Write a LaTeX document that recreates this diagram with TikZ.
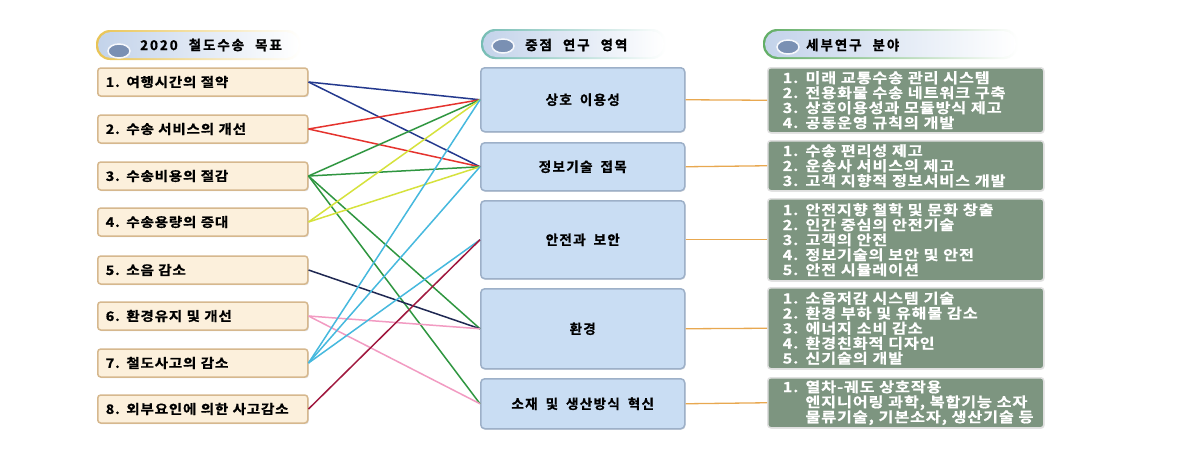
\documentclass[tikz,border=0pt]{standalone}
\usepackage{fontspec}
\newfontfamily\krL{Noto Sans CJK KR Bold}[LetterSpace=6, FakeStretch=1.12, FakeBold=0.8]
\newfontfamily\krM{Noto Sans CJK KR Bold}[LetterSpace=10, FakeBold=0.8]
\newfontfamily\krR{Noto Sans CJK KR Bold}[LetterSpace=6, FakeStretch=1.16, FakeBold=0.6]
\newfontfamily\krH{Noto Sans CJK KR Bold}[LetterSpace=14, FakeBold=0.8]
\newcommand\wsp[1]{\spaceskip=#1\relax\xspaceskip=#1\relax}
\usetikzlibrary{shadows,shapes.geometric}
\definecolor{goalfill}{HTML}{FCF0DC}
\definecolor{goalborder}{HTML}{D6B88E}
\definecolor{areafill}{HTML}{C9DDF3}
\definecolor{areaborder}{HTML}{9DB0C8}
\definecolor{detailfill}{HTML}{7D9580}
\definecolor{hdrfill}{HTML}{C3D3EA}
\definecolor{hgold}{HTML}{E9C455}
\definecolor{hteal}{HTML}{76BDB4}
\definecolor{hgreen}{HTML}{62AE66}
\definecolor{dotfill}{HTML}{7A90B3}
\definecolor{cblue}{HTML}{24398E}
\definecolor{cred}{HTML}{E5332E}
\definecolor{cgreen}{HTML}{2F9640}
\definecolor{cyellow}{HTML}{D6E23C}
\definecolor{cnavy}{HTML}{1F2852}
\definecolor{cpink}{HTML}{F29BC2}
\definecolor{ccyan}{HTML}{46B9DE}
\definecolor{cdred}{HTML}{A0183E}
\definecolor{corange}{HTML}{E8A850}
\newcommand\hdrpill[4]{% x, y, width, border colour
  \shade[left color=#4, right color=white, rounded corners=14pt] (#1,#2) rectangle ++(#3,30);
  \shade[left color=hdrfill, right color=white, rounded corners=13pt] (#1+2,#2+2) rectangle ++(#3-4,26);
}
\begin{document}
\begin{tikzpicture}[x=1pt,y=-1pt,
  goal/.style={draw=goalborder, line width=1.5pt, fill=goalfill, rounded corners=3pt,
    minimum height=28pt, text width=194pt, inner xsep=8pt, align=left,
    font=\krL\fontsize{13}{14}\selectfont\wsp{9.5pt}, anchor=west,
    drop shadow={shadow xshift=1pt, shadow yshift=-1.2pt, fill=black!22}},
  area/.style={draw=areaborder, line width=1.5pt, fill=areafill, rounded corners=4pt,
    minimum width=204pt, font=\krM\fontsize{13.5}{15}\selectfont\wsp{8pt}, anchor=north west,
    drop shadow={shadow xshift=0.8pt, shadow yshift=-1pt, fill=black!20}},
  detail/.style={draw=white!88!black, line width=1.5pt, fill=detailfill, rounded corners=3pt,
    text width=246pt, inner xsep=15pt, inner ysep=2pt, align=left, text=white,
    font=\krR\fontsize{14}{15}\selectfont\wsp{9.5pt}, anchor=north west,
    drop shadow={shadow xshift=0.8pt, shadow yshift=-1pt, fill=black!15}},
  hdrtext/.style={font=\krH\fontsize{13.5}{15}\selectfont\wsp{11pt}, anchor=west, inner sep=0pt},
  hdrdot/.style={ellipse, fill=dotfill, draw=white!85!hdrfill, line width=1.5pt,
    minimum width=22pt, minimum height=14pt, inner sep=0pt},
  link/.style={line width=1.5pt},
  feed/.style={draw=corange, line width=1.3pt}
]
\useasboundingbox[fill=white] (0,0) rectangle (1182,453);

% headers
\hdrpill{96}{30}{205}{hgold}
\node[hdrdot] (d1) at (119,51) {};
\node[hdrtext] (h1) at (140,45) {2020 철도수송 목표};
\hdrpill{481}{29}{185}{hteal}
\node[hdrdot] (d2) at (503,46) {};
\node[hdrtext] (h2) at (525,45) {중점 연구 영역};
\hdrpill{763}{29}{255}{hgreen}
\node[hdrdot] (d3) at (788,47) {};
\node[hdrtext] (h3) at (806,45) {세부연구 분야};

% goals
\node[goal] (L1) at (97,82) {1. 여행시간의 절약};
\node[goal] (L2) at (97,129) {2. 수송 서비스의 개선};
\node[goal] (L3) at (97,176) {3. 수송비용의 절감};
\node[goal] (L4) at (97,222) {4. 수송용량의 증대};
\node[goal] (L5) at (97,270) {5. 소음 감소};
\node[goal] (L6) at (97,316) {6. 환경유지 및 개선};
\node[goal] (L7) at (97,363) {7. 철도사고의 감소};
\node[goal] (L8) at (97,409) {8. 외부요인에 의한 사고감소};

% areas
\node[area, minimum height=64pt] (M1) at (480,67) {상호 이용성};
\node[area, minimum height=48pt] (M2) at (480,142) {정보기술 접목};
\node[area, minimum height=78pt] (M3) at (480,200) {안전과 보안};
\node[area, minimum height=80pt] (M4) at (480,288) {환경};
\node[area, minimum height=50pt] (M5) at (480,378) {소재 및 생산방식 혁신};

% details
\node[detail, minimum height=65pt] (R1) at (767,67) {\mbox{1. 미래 교통수송 관리 시스템}\\\mbox{2. 전용화물 수송 네트워크 구축}\\\mbox{3. 상호이용성과 모듈방식 제고}\\\mbox{4. 공동운영 규칙의 개발}};
\node[detail, minimum height=50pt] (R2) at (767,140) {\mbox{1. 수송 편리성 제고}\\\mbox{2. 운송사 서비스의 제고}\\\mbox{3. 고객 지향적 정보서비스 개발}};
\node[detail, minimum height=82pt] (R3) at (767,198) {\mbox{1. 안전지향 철학 및 문화 창출}\\\mbox{2. 인간 중심의 안전기술}\\\mbox{3. 고객의 안전}\\\mbox{4. 정보기술의 보안 및 안전}\\\mbox{5. 안전 시뮬레이션}};
\node[detail, minimum height=81pt] (R4) at (767,287) {\mbox{1. 소음저감 시스템 기술}\\\mbox{2. 환경 부하 및 유해물 감소}\\\mbox{3. 에너지 소비 감소}\\\mbox{4. 환경친화적 디자인}\\\mbox{5. 신기술의 개발}};
\node[detail, minimum height=50pt] (R5) at (767,377) {\mbox{1. 열차-궤도 상호작용}\\\mbox{\phantom{1. }엔지니어링 과학, 복합기능 소자}\\\mbox{\phantom{1. }물류기술, 기본소자, 생산기술 등}};

% area -> detail
\foreach \i in {1,...,5} \draw[feed] (M\i.east) -- (R\i.west);

% goal -> area links
\draw[link, cblue] (L1.east) -- (M1.west);
\draw[link, cblue] (L1.east) -- (M2.west);
\draw[link, cred] (L2.east) -- (M1.west);
\draw[link, cred] (L2.east) -- (M2.west);
\draw[link, cgreen] (L3.east) -- (M1.west);
\draw[link, cgreen] (L3.east) -- (M2.west);
\draw[link, cgreen] (L3.east) -- (M4.west);
\draw[link, cgreen] (L3.east) -- (M5.west);
\draw[link, cyellow] (L4.east) -- (M1.west);
\draw[link, cyellow] (L4.east) -- (M2.west);
\draw[link, cnavy] (L5.east) -- (M4.west);
\draw[link, cpink] (L6.east) -- (M4.west);
\draw[link, cpink] (L6.east) -- (M5.west);
\draw[link, ccyan] (L7.east) -- (M1.west);
\draw[link, ccyan] (L7.east) -- (M2.west);
\draw[link, ccyan] (L7.east) -- (M3.west);
\draw[link, cdred] (L8.east) -- (M3.west);
\end{tikzpicture}
\end{document}
